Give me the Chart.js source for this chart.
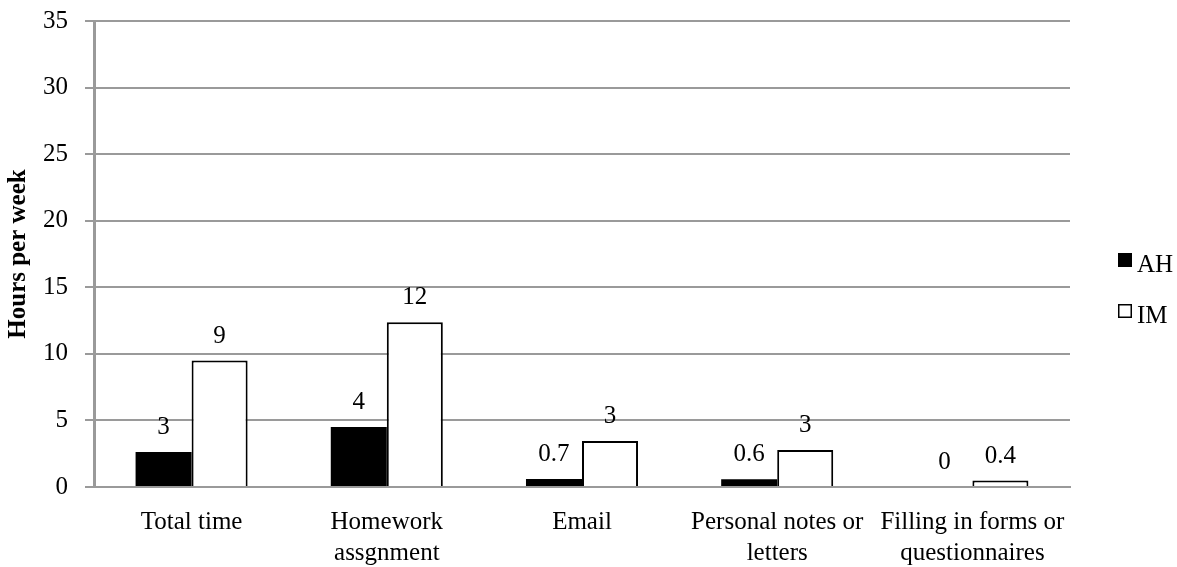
<!DOCTYPE html>
<html>
<head>
<meta charset="utf-8">
<title>Hours per week</title>
<script src="https://cdn.jsdelivr.net/npm/chart.js@4"></script>
<style>
    html, body { margin: 0; padding: 0; background: #fff; }
    #wrap { width: 1177px; height: 567px; }
</style>
</head>
<body>
<div id="wrap"><canvas id="chart" width="1177" height="567"></canvas></div>
<script>
// Data
const categories = ['Total time', ['Homework', 'assgnment'], 'Email', ['Personal notes or', 'letters'], ['Filling in forms or', 'questionnaires']];
const ahValues = [2.63, 4.5, 0.6, 0.58, 0];
const imValues = [9.5, 12.38, 3.45, 2.77, 0.48];
// numbers printed above the bars
const ahLabels = ['3', '4', '0.7', '0.6', '0'];
const imLabels = ['9', '12', '3', '3', '0.4'];
const yTicks = [0, 5, 10, 15, 20, 25, 30, 35];

const serif = "'Liberation Serif', 'Times New Roman', serif";
const gridGray = '#9a9a9a';

// Value labels above each bar
const barLabels = {
    id: 'barLabels',
    afterDatasetsDraw(chart) {
        const ctx = chart.ctx;
        ctx.save();
        ctx.font = '25px ' + serif;
        ctx.fillStyle = '#000';
        ctx.textAlign = 'center';
        ctx.textBaseline = 'alphabetic';
        chart.data.datasets.forEach((ds, i) => {
            chart.getDatasetMeta(i).data.forEach((bar, j) => {
                ctx.fillText(ds.valueLabels[j], bar.x, bar.y - 18);
            });
        });
        ctx.restore();
    }
};

// Legend on the right, drawn from the datasets
const sideLegend = {
    id: 'sideLegend',
    afterDraw(chart) {
        const ctx = chart.ctx;
        ctx.save();
        ctx.font = '25px ' + serif;
        ctx.textBaseline = 'alphabetic';
        ctx.textAlign = 'left';
        chart.data.datasets.forEach((ds, i) => {
            const top = 253 + i * 51;
            ctx.fillStyle = ds.backgroundColor;
            ctx.fillRect(1118, top, 14, 14);
            ctx.strokeStyle = '#000';
            ctx.lineWidth = 1.5;
            ctx.strokeRect(1118.75, top + 0.75, 12.5, 12.5);
            ctx.fillStyle = '#000';
            ctx.fillText(ds.label, 1137, top + 19);
        });
        ctx.restore();
    }
};

new Chart(document.getElementById('chart'), {
    type: 'bar',
    data: {
        labels: categories,
        datasets: [{
            label: 'AH',
            data: ahValues,
            valueLabels: ahLabels,
            backgroundColor: '#000',
            borderColor: '#000',
            borderWidth: 0
        }, {
            label: 'IM',
            data: imValues,
            valueLabels: imLabels,
            backgroundColor: '#fff',
            borderColor: '#000',
            borderWidth: 2
        }]
    },
    options: {
        responsive: false,
        animation: false,
        layout: {
            padding: { top: 21, right: 107, bottom: 0, left: 0 }
        },
        datasets: {
            bar: {
                categoryPercentage: 0.574,
                barPercentage: 1
            }
        },
        scales: {
            x: {
                grid: { display: false, drawTicks: false },
                border: { color: gridGray, width: 2 },
                ticks: {
                    font: { family: serif, size: 25, lineHeight: 1.25 },
                    color: '#000',
                    maxRotation: 0,
                    autoSkip: false,
                    padding: 20
                },
                afterFit(scale) {
                    scale.height = 80;
                    scale.paddingLeft = 0;
                    scale.paddingRight = 0;
                }
            },
            y: {
                min: 0,
                max: 35,
                afterBuildTicks(scale) {
                    scale.ticks = yTicks.map(v => ({ value: v }));
                },
                grid: { color: gridGray, lineWidth: 2, tickLength: 9 },
                border: { color: gridGray, width: 3 },
                ticks: {
                    font: { family: serif, size: 25 },
                    color: '#000',
                    padding: 17
                },
                title: {
                    display: true,
                    text: 'Hours per week',
                    font: { family: serif, size: 25, weight: 'bold' },
                    color: '#000',
                    padding: { top: 4, bottom: 0 }
                },
                afterFit(scale) {
                    scale.width = 94;
                    scale.paddingTop = 0;
                    scale.paddingBottom = 0;
                }
            }
        },
        plugins: {
            legend: { display: false },
            tooltip: { enabled: false }
        }
    },
    plugins: [barLabels, sideLegend]
});
</script>
</body>
</html>
